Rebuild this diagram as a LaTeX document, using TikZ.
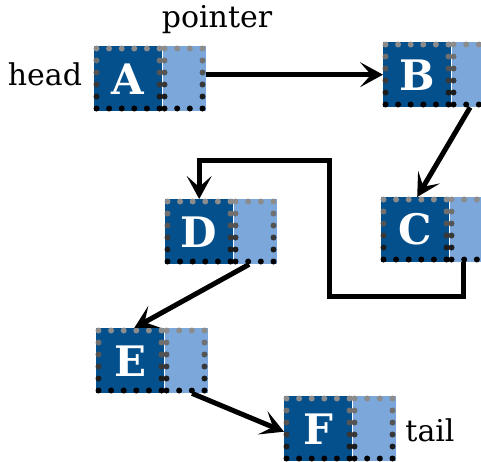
\documentclass[tikz,border=0pt]{standalone}
\usepackage{fontspec}
\setmainfont{DejaVu Serif}
\usetikzlibrary{arrows.meta}
\definecolor{cellDark}{HTML}{04508C}
\definecolor{cellLight}{HTML}{7BA7DA}
\tikzset{
  datacell/.style={fill=cellDark, text=white, minimum width=68pt, minimum height=65pt,
    inner sep=0pt, anchor=north west, font=\bfseries\fontsize{42}{42}\selectfont},
  ptrcell/.style={fill=cellLight, minimum width=43pt, minimum height=65pt,
    inner sep=0pt, anchor=west},
  link/.style={line width=5pt, -{Stealth[length=23pt,width=25pt,inset=11pt]}},
  lbl/.style={font=\fontsize{30}{30}\selectfont},
  bead/.style={radius=3pt}
}
% one list cell: name, left x, top y, letter
\newcommand\listcell[4]{%
  \node[datacell] (#1) at (#2,#3) {#4};
  \node[ptrcell] (#1p) at (#1.east) {};
  % dotted borders, grey at the top fading to black at the bottom
  \foreach \j in {0,...,5}{%
    \pgfmathsetmacro\yy{#3+2.5+12*\j}%
    \pgfmathtruncatemacro\sh{45+11*\j}%
    \fill[black!\sh,bead] (#2+2.5,\yy) circle[] (#2+65.5,\yy) circle[]
                     (#2+70.5,\yy) circle[] (#2+108.5,\yy) circle[];
  }
  \foreach \k in {1,...,4}{%
    \fill[black!45,bead] (#2+2.5+12.6*\k,#3+2.5) circle[];
    \fill[black,bead] (#2+2.5+12.6*\k,#3+62.5) circle[];
  }
  \foreach \k in {1,2}{%
    \fill[black!45,bead] (#2+70.5+12.67*\k,#3+2.5) circle[];
    \fill[black,bead] (#2+70.5+12.67*\k,#3+62.5) circle[];
  }
}
\begin{document}
\begin{tikzpicture}[x=1pt,y=-1pt]
  \useasboundingbox (0,0) rectangle (481,461);
  \clip (0,0) rectangle (481,461);
  \listcell{A}{94}{46}{A}
  \listcell{B}{383}{42}{B}
  \listcell{C}{381}{197}{C}
  \listcell{D}{165}{199}{D}
  \listcell{E}{96}{328}{E}
  \listcell{F}{284}{396}{F}

  \node[lbl] (head) at (45,74) {head};
  \node[lbl] (ptr) at (217,20) {pointer};
  \node[lbl] (tail) at (430,430) {tail};

  \draw[link] (Ap.east |- B.west) -- (B.west);
  \draw[link] ([xshift=-3pt]Bp.south) -- ([xshift=2pt]C.north);
  \draw[link] ([xshift=-8pt]Cp.south) |- (329,296) -- (329,160) -| (D.north);
  \draw[link] ([xshift=-6pt]Dp.south) -- ([xshift=4pt]E.north);
  \draw[link] ([xshift=6pt]Ep.south) -- ([yshift=-3pt]F.west);
\end{tikzpicture}
\end{document}
